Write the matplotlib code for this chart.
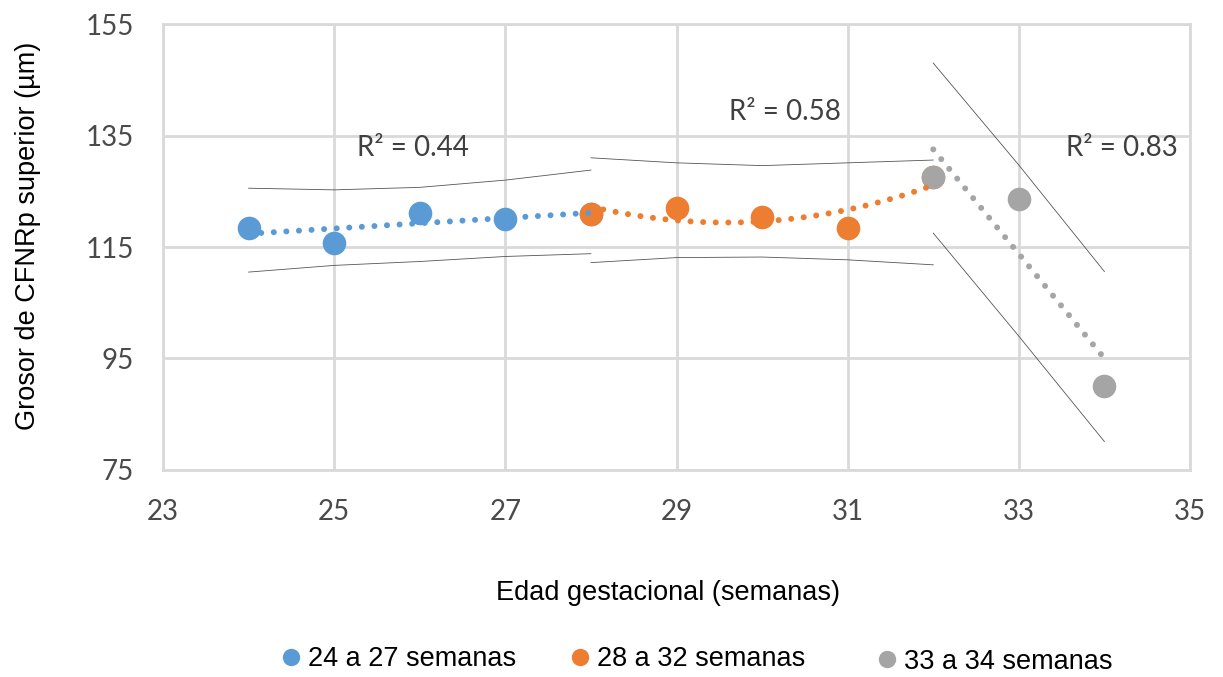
import numpy as np
import matplotlib
matplotlib.use("Agg")
from matplotlib import pyplot as plt
from matplotlib.lines import Line2D

# weeks / thickness for each gestational group (end points shared between groups)
weeks_a = [24, 25, 26, 27, 28]
thick_a = [118.4, 115.8, 121.1, 120.0, 121.0]
weeks_b = [28, 29, 30, 31, 32]
thick_b = [121.0, 122.0, 120.4, 118.4, 127.6]
weeks_c = [32, 33, 34]
thick_c = [127.6, 123.6, 90.1]

# band limits drawn around each trend
upper_a = [125.55, 125.25, 125.7, 127.0, 128.8]
lower_a = [110.5, 111.7, 112.4, 113.3, 113.8]
upper_b = [131.0, 130.1, 129.6, 130.1, 130.6]
lower_b = [112.2, 113.1, 113.2, 112.7, 111.8]
upper_c = [148.0, 129.7, 110.6]
lower_c = [117.5, 99.0, 80.1]

labels = ["24 a 27 semanas", "28 a 32 semanas", "33 a 34 semanas"]
degrees = [1, 2, 1]
r2_text = ["R² = 0.44", "R² = 0.58", "R² = 0.83"]
r2_pos = [(25.92, 132.8), (30.27, 139.2), (34.2, 132.8)]

colors = ["#5B9BD5", "#ED7D31", "#A5A5A5"]

fig = plt.figure(figsize=(12.23, 6.77), dpi=100)
ax = fig.add_axes([0.1333, 0.3058, 0.8397, 0.6587])

groups = [(weeks_a, thick_a, upper_a, lower_a),
          (weeks_b, thick_b, upper_b, lower_b),
          (weeks_c, thick_c, upper_c, lower_c)]

for i, (wx, wy, up, lo) in enumerate(groups):
    ax.plot(wx, wy, "o", ms=17, color=colors[i], mec="none", zorder=3 + i)

for i, (wx, wy, up, lo) in enumerate(groups):
    coef = np.polyfit(wx, wy, degrees[i])
    xs = np.linspace(wx[0], wx[-1], 100)
    ax.plot(xs, np.polyval(coef, xs), color=colors[i], lw=4.3,
            ls=(0, (0.01, 2.1)), dash_capstyle="round", zorder=7)
    ax.plot(wx, up, color="#555555", lw=0.6, zorder=2)
    ax.plot(wx, lo, color="#555555", lw=0.6, zorder=2)
    ax.text(r2_pos[i][0], r2_pos[i][1], r2_text[i], fontsize=20,
            family="Lato", color="#404040", ha="center", va="center")

ax.set_xlim(23, 35)
ax.set_ylim(75, 155)
ax.set_xticks(np.arange(23, 36, 2))
ax.set_yticks(np.arange(75, 156, 20))
ax.grid(True, color="#D9D9D9", lw=2)
ax.set_axisbelow(True)
for s in ax.spines.values():
    s.set_color("#D9D9D9")
    s.set_linewidth(2)
ax.tick_params(length=0, pad=21, labelsize=20, labelcolor="#4a4a4a")
for lab in ax.get_xticklabels() + ax.get_yticklabels():
    lab.set_family("Lato")

fig.text(0.023, 0.651, "Grosor de CFNRp superior (µm)", rotation=90,
         ha="center", va="center", fontsize=19.5, family="Liberation Sans")
fig.text(0.546, 0.124, "Edad gestacional (semanas)", ha="center",
         va="center", fontsize=19.5, family="Liberation Sans")

# one legend entry per group, placed along the bottom
leg_x = [0.229, 0.4653, 0.7163]
leg_y = [0.0266, 0.0266, 0.0222]
for i in range(3):
    h = Line2D([], [], ls="none", marker="o", ms=12.5, color=colors[i], mec="none")
    leg = fig.legend([h], [labels[i]], loc="center left",
                     bbox_to_anchor=(leg_x[i], leg_y[i]), frameon=False,
                     borderpad=0, borderaxespad=0, handlelength=0.8,
                     handletextpad=0.23,
                     prop={"family": "Liberation Sans", "size": 19.5})

fig.savefig("out.png", dpi=100)
